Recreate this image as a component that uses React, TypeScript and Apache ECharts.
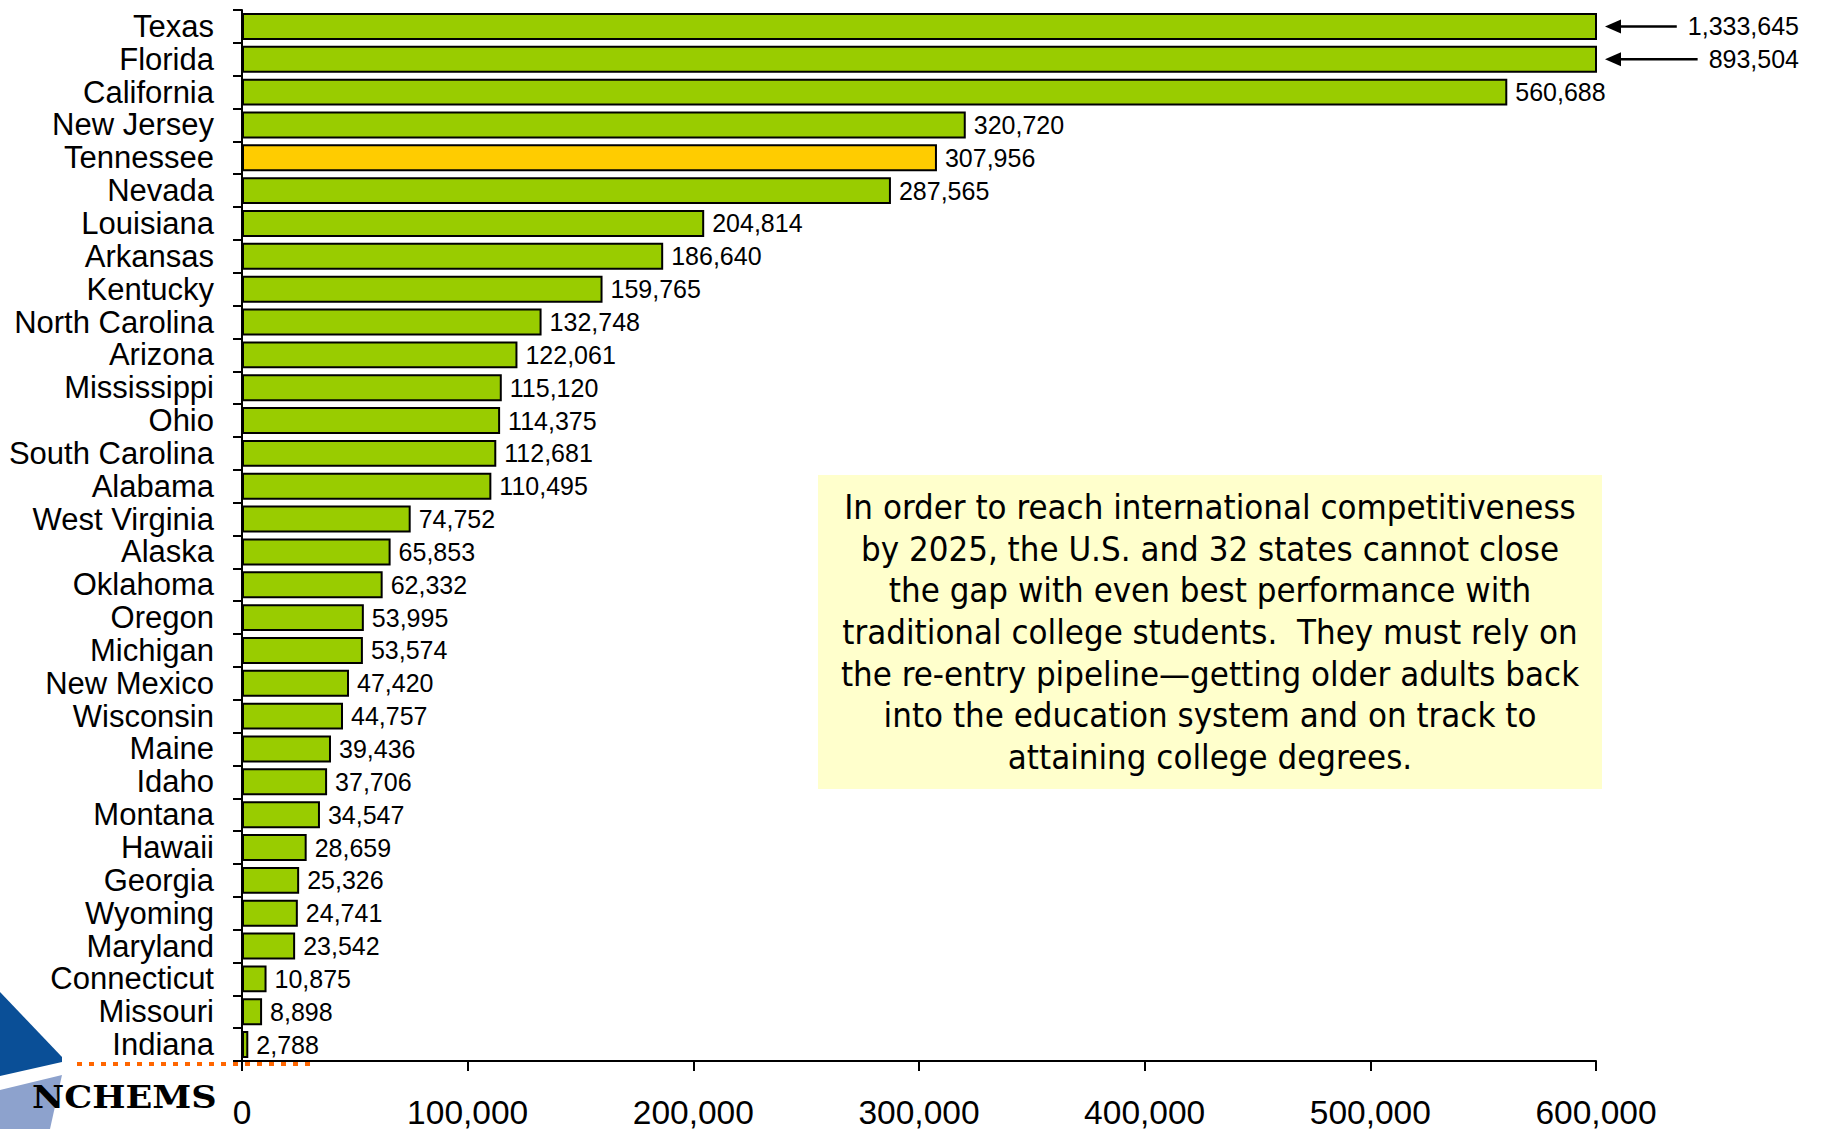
import React, { useEffect, useRef } from "react";
import * as echarts from "echarts";

// States ranked by the number of additional degrees still needed
const states = [
  "Texas", "Florida", "California", "New Jersey", "Tennessee", "Nevada",
  "Louisiana", "Arkansas", "Kentucky", "North Carolina", "Arizona",
  "Mississippi", "Ohio", "South Carolina", "Alabama", "West Virginia",
  "Alaska", "Oklahoma", "Oregon", "Michigan", "New Mexico", "Wisconsin",
  "Maine", "Idaho", "Montana", "Hawaii", "Georgia", "Wyoming", "Maryland",
  "Connecticut", "Missouri", "Indiana",
];

const degreeGap = [
  1333645, 893504, 560688, 320720, 307956, 287565, 204814, 186640, 159765,
  132748, 122061, 115120, 114375, 112681, 110495, 74752, 65853, 62332, 53995,
  53574, 47420, 44757, 39436, 37706, 34547, 28659, 25326, 24741, 23542, 10875,
  8898, 2788,
];

const highlightState = "Tennessee";
const axisMin = 0;
const axisMax = 600000;
const axisStep = 100000;

const noteLines = [
  "In order to reach international competitiveness",
  "by 2025, the U.S. and 32 states cannot close",
  "the gap with even best performance with",
  "traditional college students.  They must rely on",
  "the re-entry pipeline\u2014getting older adults back",
  "into the education system and on track to",
  "attaining college degrees.",
];

const GREEN = "#99CC00";
const GOLD = "#FFCC00";
const LABEL_FONT = "'Liberation Sans', Arial, sans-serif";

const fmt = (v: number) => v.toLocaleString("en-US");

function textWidth(text: string, font: string): number {
  const ctx = document.createElement("canvas").getContext("2d");
  if (!ctx) return text.length * 14;
  ctx.font = font;
  return ctx.measureText(text).width;
}

export default function App() {
  const ref = useRef<HTMLDivElement>(null);

  useEffect(() => {
    if (!ref.current) return;
    const chart = echarts.init(ref.current, null, { renderer: "svg" });

    const barData = degreeGap.map((v, i) => ({
      value: v,
      itemStyle: { color: states[i] === highlightState ? GOLD : GREEN },
      label: { show: v <= axisMax },
    }));

    chart.setOption({
      animation: false,
      backgroundColor: "#ffffff",
      grid: { left: 242, right: 227, top: 10, bottom: 68, containLabel: false },
      xAxis: {
        type: "value",
        min: axisMin,
        max: axisMax,
        interval: axisStep,
        splitLine: { show: false },
        axisLine: { show: true, lineStyle: { color: "#000", width: 2 } },
        axisTick: { show: true, length: 10, lineStyle: { color: "#000", width: 2 } },
        axisLabel: {
          color: "#000",
          fontFamily: LABEL_FONT,
          fontSize: 33.5,
          margin: 34,
          formatter: (v: number) => fmt(v),
        },
      },
      yAxis: {
        type: "category",
        data: states,
        inverse: true,
        axisLine: { show: true, lineStyle: { color: "#000", width: 2 } },
        axisTick: { show: true, length: 9, lineStyle: { color: "#000", width: 2 } },
        axisLabel: {
          color: "#000",
          fontFamily: LABEL_FONT,
          fontSize: 31,
          margin: 28,
          interval: 0,
        },
      },
      series: [
        {
          type: "bar",
          data: barData,
          barCategoryGap: "18%",
          clip: true,
          itemStyle: { borderColor: "#000", borderWidth: 2 },
          label: {
            show: true,
            position: "right",
            distance: 8,
            color: "#000",
            fontFamily: LABEL_FONT,
            fontSize: 25,
            formatter: (p: any) => fmt(p.value),
          },
        },
      ],
    });

    // Bars running past the axis end get an arrow and their value outside the plot
    const labelFont = `25px ${LABEL_FONT}`;
    const edgeX = chart.convertToPixel({ xAxisIndex: 0 }, axisMax) as number;
    const overflow: any[] = [];
    degreeGap.forEach((v, i) => {
      if (v <= axisMax) return;
      const y = chart.convertToPixel({ yAxisIndex: 0 }, i) as number;
      const tipX = edgeX + 9;
      const rightX = tipX + 194;
      const text = fmt(v);
      const w = textWidth(text, labelFont);
      overflow.push(
        {
          type: "polygon",
          shape: { points: [[tipX, y], [tipX + 16, y - 7], [tipX + 16, y + 7]] },
          style: { fill: "#000" },
        },
        {
          type: "line",
          shape: { x1: tipX + 12, y1: y, x2: rightX - w - 11, y2: y },
          style: { stroke: "#000", lineWidth: 2.5 },
        },
        {
          type: "text",
          x: rightX,
          y: y,
          style: {
            text,
            fill: "#000",
            font: labelFont,
            align: "right",
            verticalAlign: "middle",
          },
        },
      );
    });

    chart.setOption({
      graphic: [
        // note box
        {
          type: "rect",
          shape: { x: 818, y: 475, width: 784, height: 314 },
          style: { fill: "#FFFFCC" },
          z: 10,
        },
        {
          type: "text",
          x: 1210,
          y: 632,
          z: 11,
          style: {
            text: noteLines.join("\n"),
            fill: "#000",
            fontFamily: "'DejaVu Sans Condensed', 'Liberation Sans Narrow', 'DejaVu Sans', sans-serif",
            fontSize: 34.5,
            lineHeight: 41.7,
            align: "center",
            verticalAlign: "middle",
          },
        },
        ...overflow,
        // NCHEMS logo
        {
          type: "polygon",
          shape: { points: [[0, 992], [62, 1057], [62, 1062], [0, 1076]] },
          style: { fill: "#0A4F97" },
          z: 5,
        },
        {
          type: "polygon",
          shape: { points: [[0, 1090], [62, 1075], [50, 1129], [0, 1129]] },
          style: { fill: "#8DA2CD" },
          z: 5,
        },
        {
          type: "line",
          shape: { x1: 77, y1: 1064, x2: 312, y2: 1064 },
          style: { stroke: "#FF6600", lineWidth: 4, lineDash: [5, 7] },
          z: 20,
        },
        {
          type: "text",
          x: 32,
          y: 1097,
          z: 6,
          scaleX: 1.1,
          style: {
            text: "NCHEMS",
            fill: "#000",
            fontFamily: "'DejaVu Serif', 'Liberation Serif', serif",
            fontWeight: "bold",
            fontSize: 32,
            align: "left",
            verticalAlign: "middle",
          },
        },
      ],
    });

    return () => chart.dispose();
  }, []);

  return (
    <div
      ref={ref}
      style={{ position: "fixed", left: 0, top: 0, width: 1823, height: 1129, background: "#fff" }}
    />
  );
}
